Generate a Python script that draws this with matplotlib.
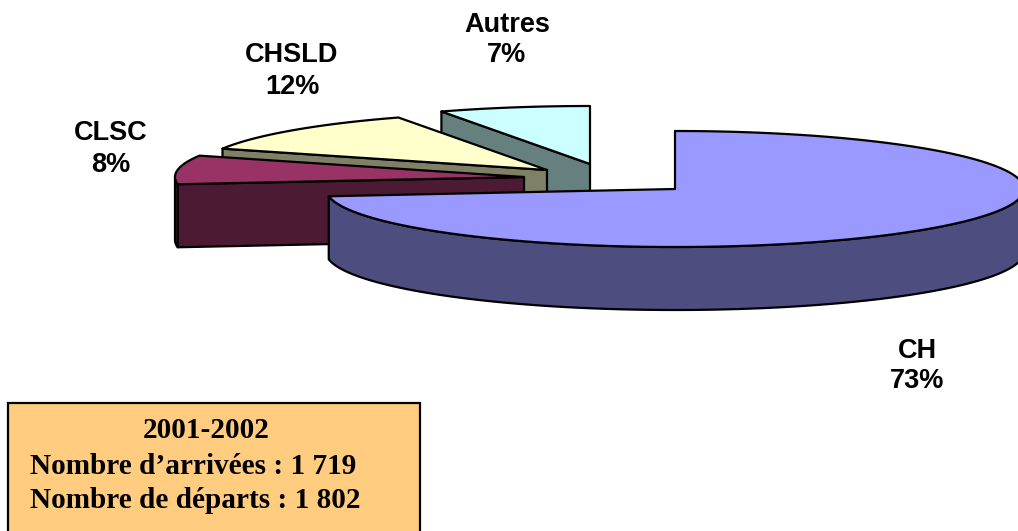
import numpy as np
import matplotlib
matplotlib.use("Agg")
import matplotlib.pyplot as plt
from matplotlib.patches import Polygon, Rectangle

categories = ["CH", "CLSC", "CHSLD", "Autres"]
values = [73, 8, 12, 7]
labels = ["CH\n73%", "CLSC\n8%", "CHSLD\n12%", "Autres\n7%"]
box_title = "2001-2002"
box_lines = ["Nombre d’arrivées : 1 719", "Nombre de départs : 1 802"]

top_colors = {"CH": "#9999ff", "CLSC": "#993366", "CHSLD": "#ffffcc", "Autres": "#ccffff"}
side_colors = {"CH": "#4d4d80", "CLSC": "#4d1a33", "CHSLD": "#808066", "Autres": "#668080"}
centers = {"CH": (675, 189), "CLSC": (524, 177), "CHSLD": (547, 170), "Autres": (590, 164)}
label_pos = {"CH": (917, 366), "CLSC": (111, 149), "CHSLD": (292, 71), "Autres": (507, 40)}
RX, RY, DEPTH = 349, 58, 63

fig = plt.figure(figsize=(10.18, 5.31), dpi=100, facecolor="white")
ax = fig.add_axes([0, 0, 1, 1])
ax.set_xlim(0, 1018)
ax.set_ylim(531, 0)
ax.axis("off")

def rim(c, a0, a1, n=200):
    t = np.radians(np.linspace(a0, a1, n))
    return np.column_stack([c[0] + RX * np.sin(t), c[1] - RY * np.cos(t)])

edges = np.cumsum([0] + values) / sum(values) * 360
spans = {k: (edges[i], edges[i + 1]) for i, k in enumerate(categories)}
kw = dict(edgecolor="black", linewidth=1.6, joinstyle="round")
down = np.array([0, DEPTH])

for k in ["Autres", "CHSLD", "CLSC", "CH"]:
    a0, a1 = spans[k]
    c = np.array(centers[k], float)
    arc = rim(c, a0, a1)
    # flat cut face at the starting edge of the slice (seen from the front)
    if k != "CH":
        p = arc[0]
        ax.add_patch(Polygon([c, p, p + down, c + down], facecolor=side_colors[k], **kw))
    # outer wall: only the part of the arc that faces the viewer
    lo, hi = max(a0, 90), min(a1, 270)
    if hi > lo:
        wall = rim(c, lo, hi)
        ax.add_patch(Polygon(np.vstack([wall, (wall + down)[::-1]]), facecolor=side_colors[k], **kw))
    ax.add_patch(Polygon(np.vstack([[c], arc]), facecolor=top_colors[k], **kw))

for k, t in zip(categories, labels):
    ax.text(*label_pos[k], t, ha="center", va="center", family="Liberation Sans",
            weight="bold", fontsize=19.5, linespacing=1.25, color="black")

ax.add_patch(Rectangle((8, 403), 412, 135, facecolor="#ffcc80", edgecolor="black", linewidth=1.6))
ax.text(206, 431, box_title, ha="center", va="center", family="Liberation Serif",
        weight="bold", fontsize=21)
for y, t in zip((467, 500), box_lines):
    ax.text(30, y, t, ha="left", va="center", family="Liberation Serif", weight="bold", fontsize=21.1)

fig.savefig("out.png", dpi=100, facecolor="white")
